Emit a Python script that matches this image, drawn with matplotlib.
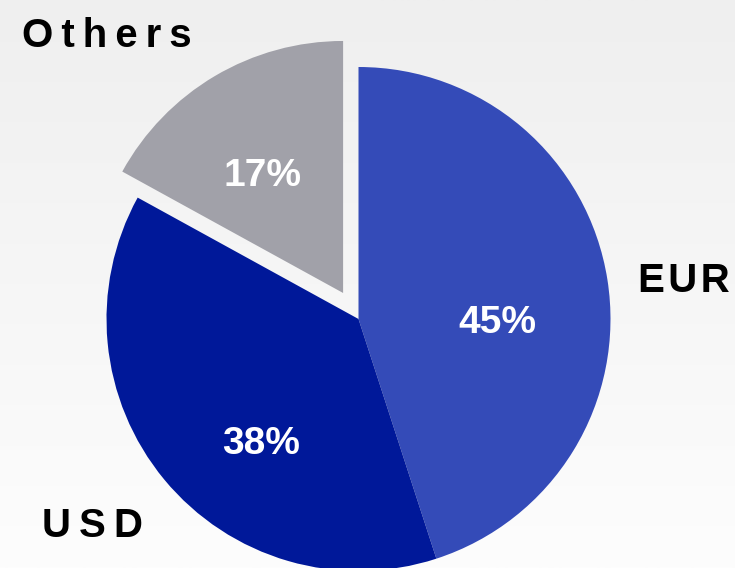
import numpy as np
import matplotlib
matplotlib.use("Agg")
import matplotlib.pyplot as plt

currencies = ["EUR", "USD", "Others"]
shares = [45, 38, 17]
colors = ["#344bb8", "#001899", "#a1a1a9"]
explode = [0, 0, 0.12]

W, H = 735, 568
fig = plt.figure(figsize=(W / 100, H / 100), dpi=100)
ax = fig.add_axes([0, 0, 1, 1])

# pie centre at (358.5, 319) px, radius 252 px -> pick limits so 1 unit = 252 px
cx, cy, r = 358.5, 319, 252
x0, x1 = -cx / r, (W - cx) / r
y0, y1 = -(H - cy) / r, cy / r

# light grey to white vertical background
grad = np.linspace(0, 1, 256).reshape(-1, 1)
ax.imshow(grad, extent=[x0, x1, y0, y1], aspect="auto", zorder=0,
          cmap=matplotlib.colors.LinearSegmentedColormap.from_list("bg", ["#efefef", "#fdfdfd"]),
          origin="upper")

wedges, texts, autotexts = ax.pie(
    shares, colors=colors, explode=explode, startangle=90, counterclock=False,
    autopct="%d%%", radius=1, center=(0, 0), frame=True,
    textprops=dict(color="white", fontsize=28, fontweight="bold", family="Liberation Sans"),
    wedgeprops=dict(linewidth=0),
)
for w in wedges:
    w.set_zorder(2)
ax.set_xlim(x0, x1)
ax.set_ylim(y0, y1)
ax.axis("off")

pct_pos = [(0.553, -0.056), (-0.385, -0.536), (-0.379, 0.528)]
for t, p in zip(autotexts, pct_pos):
    t.set_position(p)
    t.set_va("baseline")
    t.set_zorder(3)

label_font = dict(fontsize=29, fontweight="bold", family=["Liberation Sans", "DejaVu Sans"],
                  color="black", ha="left", va="baseline")
label_pos = {"EUR": (638, 292), "USD": (42, 537), "Others": (22, 47)}
for name in currencies:
    px, py = label_pos[name]
    sep = "\u200a" if name == "EUR" else "\u2009"
    ax.text((px - cx) / r, (cy - py) / r, sep.join(name), **label_font)

fig.savefig("out.png", dpi=100)
